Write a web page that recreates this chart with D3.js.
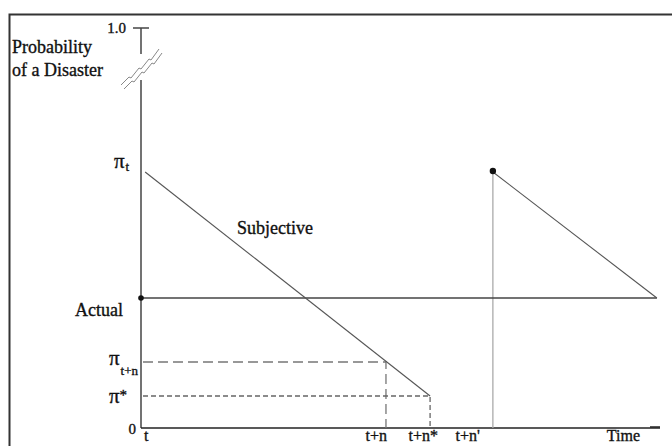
<!DOCTYPE html>
<html>
<head>
<meta charset="utf-8">
<script src="https://cdn.jsdelivr.net/npm/d3@7"></script>
<style>
  body { margin: 0; background: #fff; }
  text { font-family: "Liberation Serif", "Times New Roman", serif; fill: #111; stroke: #111; stroke-width: 0.35; }
</style>
</head>
<body>
<div id="chart"></div>
<script>
// Values (time in arbitrary units 0-100, probability 0-1)
var xTickLabels = ["t", "t+n", "t+n*", "t+n'"];
var xTickValues = [0, 47.2, 55.7, 67.8];

var piT = 0.64;
var actualP = 0.325;
var piTn = 0.165;
var piStar = 0.08;

var subjectiveBefore = [[0.8, 0.64], [55.7, 0.08]];
var subjectiveAfter = [[67.8, 0.64], [99.4, 0.325]];
var actualLine = [[0, 0.325], [99.4, 0.325]];

// svg + layout
var svgWidth = 672, svgHeight = 446;
var svg = d3.select("#chart").append("svg")
    .attr("width", svgWidth).attr("height", svgHeight);

var xScale = d3.scaleLinear().domain([0, 100]).range([141, 660]);
var yScale = d3.scaleLinear().domain([0, 1]).range([428, 28]);

// frame (only top and left edges show)
svg.append("path")
    .attr("d", "M9.5,446 V14.5 H672")
    .attr("fill", "none").attr("stroke", "#333").attr("stroke-width", 2);

var line = d3.line().x(d => xScale(d[0])).y(d => yScale(d[1]));

// y axis with a break between 0.87 and 0.935
var x0 = xScale(0);
svg.append("line")
    .attr("x1", x0).attr("x2", x0)
    .attr("y1", yScale(1)).attr("y2", yScale(0.935))
    .attr("stroke", "#444").attr("stroke-width", 1.5);
svg.append("line")
    .attr("x1", x0).attr("x2", x0)
    .attr("y1", yScale(0.87)).attr("y2", yScale(0))
    .attr("stroke", "#444").attr("stroke-width", 1.5);
svg.append("line")
    .attr("x1", x0 - 8).attr("x2", x0 + 8)
    .attr("y1", yScale(1)).attr("y2", yScale(1))
    .attr("stroke", "#444").attr("stroke-width", 1.5);

// break marks: two wavy diagonals
[[0, 0], [3, 4]].forEach(function (off) {
    var bx = x0 - 20 + off[0], by = yScale(0.85) - 3 + off[1];
    svg.append("path")
        .attr("d", `M${bx},${by} l8,-8 l2,1 l8,-10 l2,1 l8,-10 l2,1 l8,-11`)
        .attr("fill", "none").attr("stroke", "#888").attr("stroke-width", 1);
});

// x axis + small end nub
svg.append("line")
    .attr("x1", x0).attr("x2", xScale(100))
    .attr("y1", yScale(0)).attr("y2", yScale(0))
    .attr("stroke", "#222").attr("stroke-width", 1.5);
svg.append("line")
    .attr("x1", xScale(100) - 10).attr("x2", xScale(100))
    .attr("y1", yScale(0) - 1).attr("y2", yScale(0) - 1)
    .attr("stroke", "#222").attr("stroke-width", 1.5);

// dashed guides
svg.append("path")
    .attr("d", `M${x0 + 2},${yScale(piTn)} H${xScale(xTickValues[1])} V${yScale(0)}`)
    .attr("fill", "none").attr("stroke", "#777").attr("stroke-width", 1.3)
    .attr("stroke-dasharray", "10,5");
svg.append("path")
    .attr("d", `M${x0 + 2},${yScale(piStar)} H${xScale(xTickValues[2])} V${yScale(0)}`)
    .attr("fill", "none").attr("stroke", "#666").attr("stroke-width", 1.3)
    .attr("stroke-dasharray", "5,3");

// disaster at t+n': vertical jump
svg.append("line")
    .attr("x1", xScale(xTickValues[3])).attr("x2", xScale(xTickValues[3]))
    .attr("y1", yScale(piT)).attr("y2", yScale(0))
    .attr("stroke", "#aaa").attr("stroke-width", 1.3);

// actual line
svg.append("path").datum(actualLine).attr("d", line)
    .attr("fill", "none").attr("stroke", "#444").attr("stroke-width", 1.5);

// subjective lines
[subjectiveBefore, subjectiveAfter].forEach(function (seg) {
    svg.append("path").datum(seg).attr("d", line)
        .attr("fill", "none").attr("stroke", "#555").attr("stroke-width", 1.1);
});

// dots
svg.append("circle").attr("cx", x0).attr("cy", yScale(actualP)).attr("r", 2.8).attr("fill", "#111");
svg.append("circle").attr("cx", xScale(xTickValues[3])).attr("cy", yScale(piT) - 1).attr("r", 3.2).attr("fill", "#111");

// y labels
svg.append("text").attr("x", 12).attr("y", 53).attr("font-size", 18).text("Probability");
svg.append("text").attr("x", 12).attr("y", 76).attr("font-size", 18).text("of a Disaster");
svg.append("text").attr("x", 126).attr("y", yScale(1) + 5).attr("text-anchor", "end")
    .attr("font-size", 15).attr("stroke-width", 0.15).text("1.0");
svg.append("text").attr("x", 136).attr("y", yScale(0) + 6).attr("text-anchor", "end")
    .attr("font-size", 15).attr("stroke-width", 0.15).text("0");
svg.append("text").attr("x", 123).attr("y", yScale(actualP) + 18).attr("text-anchor", "end")
    .attr("font-size", 18).text("Actual");

var tPi = svg.append("text").attr("x", 114).attr("y", yScale(piT) - 4).attr("font-size", 21);
tPi.append("tspan").text("\u03c0");
tPi.append("tspan").attr("font-size", 13).attr("dy", 3).attr("dx", 1).text("t");

var tPiN = svg.append("text").attr("x", 109).attr("y", yScale(piTn) + 3).attr("font-size", 21);
tPiN.append("tspan").text("\u03c0");
tPiN.append("tspan").attr("font-size", 13).attr("dy", 10).attr("dx", 1).text("t+n");

var tPiS = svg.append("text").attr("x", 109).attr("y", yScale(piStar) + 7).attr("font-size", 21);
tPiS.append("tspan").text("\u03c0");
tPiS.append("tspan").attr("font-size", 15).attr("dy", -3).text("*");

// x tick labels, kept just inside the bottom edge
var xLabelAnchor = ["start", "end", "end", "end"];
var xLabelNudge = [3, 1, 8, -13];
svg.selectAll("text.xtick").data(xTickLabels).enter().append("text")
    .attr("class", "xtick")
    .attr("x", (d, i) => xScale(xTickValues[i]) + xLabelNudge[i])
    .attr("y", 441)
    .attr("text-anchor", (d, i) => xLabelAnchor[i])
    .attr("font-size", 16)
    .text(d => d);
svg.append("text").attr("x", 640).attr("y", 441).attr("text-anchor", "end")
    .attr("font-size", 16).text("Time");

// series label
svg.append("text").attr("x", 237).attr("y", 234).attr("font-size", 18).text("Subjective");
</script>
</body>
</html>
